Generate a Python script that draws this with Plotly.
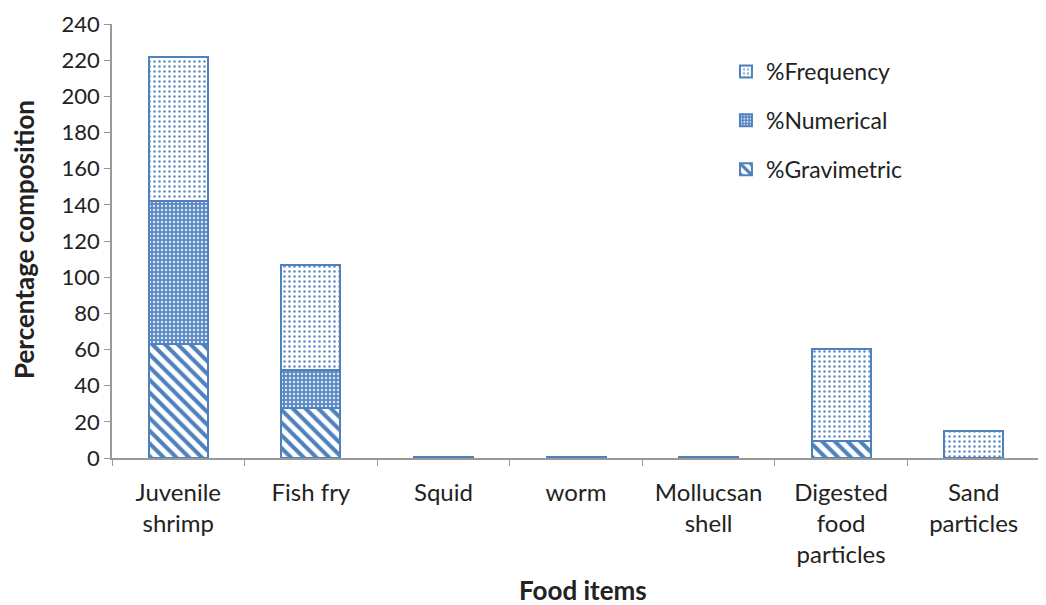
import plotly.graph_objects as go

categories = ["Juvenile<br>shrimp", "Fish fry", "Squid", "worm", "Mollucsan<br>shell",
              "Digested<br>food<br>particles", "Sand<br>particles"]
gravimetric = [63, 27.5, 0.3, 0.3, 0.3, 9.3, 0]
numerical = [79, 21, 0.2, 0.2, 0.2, 0, 0]
frequency = [80, 58.5, 0.3, 0.3, 0.3, 51, 14.8]

blue = "#4F81BD"
fig = go.Figure()
fig.add_trace(go.Bar(
    x=categories, y=gravimetric, name="%Gravimetric", legendgroup="g", legendrank=3,
    marker=dict(color="white", line=dict(color=blue, width=2),
                pattern=dict(shape="\\", fgcolor=blue, bgcolor="white", size=9, solidity=0.45,
                             fillmode="overlay", fgopacity=1)),
))
fig.add_trace(go.Bar(
    x=categories, y=numerical, name="%Numerical", legendgroup="n", legendrank=2,
    marker=dict(color=blue, line=dict(color=blue, width=2),
                pattern=dict(shape=".", fgcolor="#DCE6F2", bgcolor="#5A88C4", size=4, solidity=0.3,
                             fillmode="replace")),
))
fig.add_trace(go.Bar(
    x=categories, y=frequency, name="%Frequency", legendgroup="f", legendrank=1,
    marker=dict(color="white", line=dict(color=blue, width=2),
                pattern=dict(shape=".", fgcolor=blue, bgcolor="white", size=5, solidity=0.2,
                             fillmode="overlay", fgopacity=0.9)),
))

W, H = 1038, 597
L, R, T, B = 104, 6, 16, 147
pw, ph = W - L - R, H - T - B

def px(x):
    return (x - 8 - L) / pw

def py(y):
    return (H - B - (y - 8)) / ph

font = "Lato, 'Liberation Sans', sans-serif"
fig.update_layout(
    barmode="stack",
    bargap=0.555,
    width=W, height=H,
    margin=dict(l=L, r=R, t=T, b=B),
    plot_bgcolor="white", paper_bgcolor="white",
    font=dict(family=font, size=24, color="#222222"),
    showlegend=True,
    legend=dict(x=0.6616, y=py(50), xanchor="left", yanchor="top", traceorder="grouped",
                font=dict(size=23), tracegroupgap=16,
                bgcolor="rgba(0,0,0,0)"),
    xaxis=dict(
        automargin=False,
        showline=True, linecolor="#999999", linewidth=1.5,
        ticks="outside", tickson="boundaries", ticklen=6, tickcolor="#999999",
        showgrid=False, tickfont=dict(size=24), ticklabelstandoff=12,
    ),
    yaxis=dict(
        automargin=False,
        range=[0, 240], dtick=20,
        showline=True, linecolor="#999999", linewidth=1.5,
        ticks="outside", ticklen=6, tickcolor="#999999", ticklabeloverflow="allow",
        showgrid=False, zeroline=False, tickfont=dict(size=22),
    ),
    annotations=[
        dict(text="<b>Food items</b>", x=px(583), y=py(590), xref="paper", yref="paper",
             xanchor="center", yanchor="middle", showarrow=False, font=dict(size=26)),
        dict(text="<b>Percentage composition</b>", x=px(24), y=py(240), xref="paper", yref="paper",
             xanchor="center", yanchor="middle", showarrow=False, textangle=-90,
             font=dict(size=26)),
    ],
)
fig.write_html("out.html")
